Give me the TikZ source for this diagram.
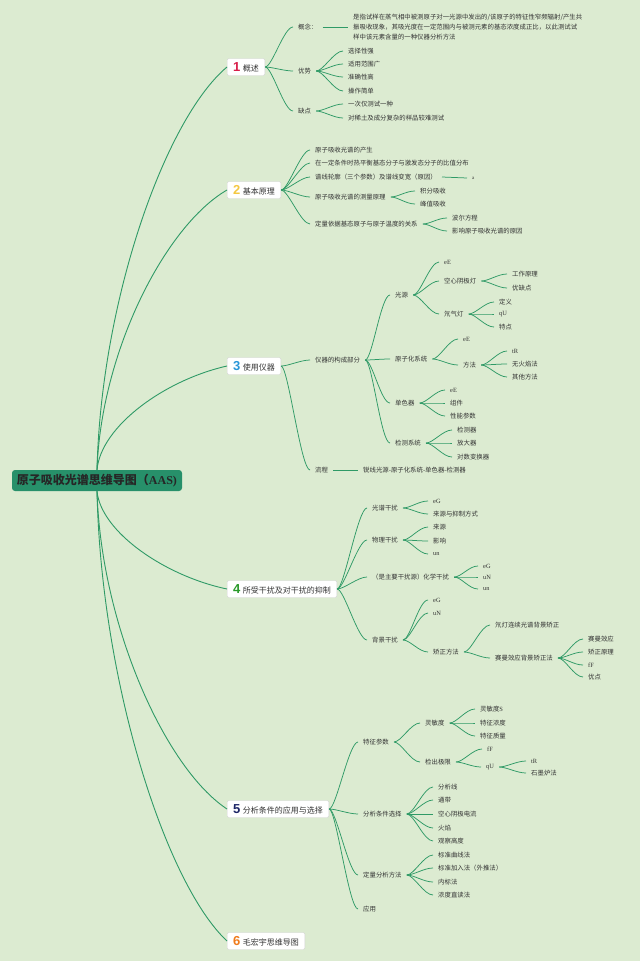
\documentclass[tikz,border=0pt]{standalone}
\usepackage{fontspec}
\setmainfont{Noto Sans CJK SC}
\newfontfamily\numfont{Liberation Sans}
\newfontfamily\latfont{Liberation Serif}
\usetikzlibrary{calc}
\definecolor{bgc}{HTML}{DCEBD1}
\definecolor{lnc}{HTML}{2F9A66}
\definecolor{rootc}{HTML}{27906A}
\definecolor{txc}{HTML}{333333}
\definecolor{nA}{HTML}{D81E4A}
\definecolor{nB}{HTML}{F4C842}
\definecolor{nC}{HTML}{2896D8}
\definecolor{nD}{HTML}{2A9A2A}
\definecolor{nE}{HTML}{1C2566}
\definecolor{nF}{HTML}{F07C1C}
\newcommand{\bnum}[2]{{\numfont\bfseries\fontsize{13}{13}\selectfont\color{#1}#2}\hspace{2.5pt}}
\newcommand{\latx}[1]{{\latfont #1}}
\begin{document}
\begin{tikzpicture}[x=1pt,y=-1pt,
  root/.style={fill=rootc, rounded corners=3pt, minimum width=170pt, minimum height=21pt, inner sep=0pt, font=\fontsize{12}{12}\selectfont\bfseries, text=black!85},
  mbox/.style={anchor=west, draw=black!18, fill=white, rounded corners=1.5pt, minimum height=17pt, inner xsep=6pt, inner ysep=0pt, font=\fontsize{8}{8}\selectfont, text=txc},
  tx/.style={anchor=west, xshift=-5pt, inner xsep=5pt, inner ysep=1pt, font=\fontsize{6.4}{7}\selectfont, text=txc},
  mc/.style={draw=lnc, line width=0.9pt},
  lc/.style={draw=lnc, line width=0.75pt},
  sc/.style={draw=lnc, line width=0.75pt, to path={.. controls ($(\tikztostart)+(7,0)$) and ($(\tikztotarget)+(-9,0)$) .. (\tikztotarget)}}
]
\fill[bgc] (0,0) rectangle (640,961);
\node[root] (root) at (97,480.5) {原子吸收光谱思维导图（{\latfont AAS)}};
% main boxes
\node[mbox] (b1) at (227,67) {\bnum{nA}{1}概述};
\node[mbox] (b2) at (227,190) {\bnum{nB}{2}基本原理};
\node[mbox] (b3) at (227,366) {\bnum{nC}{3}使用仪器};
\node[mbox] (b4) at (227,589) {\bnum{nD}{4}所受干扰及对干扰的抑制};
\node[mbox] (b5) at (227,809) {\bnum{nE}{5}分析条件的应用与选择};
\node[mbox] (b6) at (227,941) {\bnum{nF}{6}毛宏宇思维导图};
\draw[mc] (root.north) .. controls (101,301) and (165,119) .. (b1.west);
\draw[mc] (root.north) .. controls (101,352) and (165,226) .. (b2.west);
\draw[mc] (root.north) .. controls (101,426) and (165,380) .. (b3.west);
\draw[mc] (root.south) .. controls (101,532) and (165,576) .. (b4.west);
\draw[mc] (root.south) .. controls (101,625) and (165,768) .. (b5.west);
\draw[mc] (root.south) .. controls (101,680) and (165,883) .. (b6.west);
% branch 1
\node[tx] (g1) at (298,27) {概念：};
\node[tx, align=left, font=\fontsize{6.4}{10}\selectfont] (g1d) at (353,27) {是指试样在蒸气相中被测原子对一光源中发出的/该原子的特征性窄频辐射/产生共\\振吸收现象，其吸光度在一定范围内与被测元素的基态浓度成正比，以此测试试\\样中该元素含量的一种仪器分析方法};
\node[tx] (y1) at (298,71) {优势};
\node[tx] (y1a) at (348,51) {选择性强};
\node[tx] (y1b) at (348,64) {适用范围广};
\node[tx] (y1c) at (348,77) {准确性高};
\node[tx] (y1d) at (348,91) {操作简单};
\node[tx] (q1) at (298,111) {缺点};
\node[tx] (q1a) at (348,104) {一次仅测试一种};
\node[tx] (q1b) at (348,118) {对稀土及成分复杂的样品较难测试};
\foreach \c in {g1,y1,q1} \draw[sc] (b1.east) to (\c.west);
\draw[lc] (g1.east) -- (g1d.west);
\foreach \c in {y1a,y1b,y1c,y1d} \draw[sc] (y1.east) to (\c.west);
\foreach \c in {q1a,q1b} \draw[sc] (q1.east) to (\c.west);
% branch 2
\node[tx] (p1) at (315,150) {原子吸收光谱的产生};
\node[tx] (p2) at (315,163) {在一定条件时热平衡基态分子与激发态分子的比值分布};
\node[tx] (p3) at (315,177) {谱线轮廓（三个参数）及谱线变宽（原因）};
\node[tx, font=\fontsize{5}{5}\selectfont] (p3a) at (472,178) {\latx{a}};
\node[tx] (p4) at (315,197) {原子吸收光谱的测量原理};
\node[tx] (p4a) at (420,191) {积分吸收};
\node[tx] (p4b) at (420,204) {峰值吸收};
\node[tx] (p5) at (315,224) {定量依据基态原子与原子温度的关系};
\node[tx] (p5a) at (452,218) {波尔方程};
\node[tx] (p5b) at (452,231) {影响原子吸收光谱的原因};
\foreach \c in {p1,p2,p3,p4,p5} \draw[sc] (b2.east) to (\c.west);
\draw[lc] (p3.east) -- (p3a.west);
\foreach \c in {p4a,p4b} \draw[sc] (p4.east) to (\c.west);
\foreach \c in {p5a,p5b} \draw[sc] (p5.east) to (\c.west);
% branch 3
\node[tx] (c1) at (315,360) {仪器的构成部分};
\node[tx] (c2) at (315,470) {流程};
\node[tx] (c2d) at (363,470) {锐线光源-原子化系统-单色器-检测器};
\foreach \c in {c1,c2} \draw[sc] (b3.east) to (\c.west);
\draw[lc] (c2.east) -- (c2d.west);
\node[tx] (s1) at (395,295) {光源};
\node[tx] (s2) at (395,359) {原子化系统};
\node[tx] (s3) at (395,403) {单色器};
\node[tx] (s4) at (395,443) {检测系统};
\foreach \c in {s1,s2,s3,s4} \draw[sc] (c1.east) to (\c.west);
\node[tx] (s1a) at (444,262) {\latx{eE}};
\node[tx] (s1b) at (444,281) {空心阴极灯};
\node[tx] (s1c) at (444,314) {氘气灯};
\foreach \c in {s1a,s1b,s1c} \draw[sc] (s1.east) to (\c.west);
\node[tx] (s1b1) at (512,274) {工作原理};
\node[tx] (s1b2) at (512,288) {优缺点};
\foreach \c in {s1b1,s1b2} \draw[sc] (s1b.east) to (\c.west);
\node[tx] (s1c1) at (499,302) {定义};
\node[tx] (s1c2) at (499,314) {\latx{qU}};
\node[tx] (s1c3) at (499,327) {特点};
\foreach \c in {s1c1,s1c2,s1c3} \draw[sc] (s1c.east) to (\c.west);
\node[tx] (s2a) at (463,339) {\latx{eE}};
\node[tx] (s2b) at (463,365) {方法};
\foreach \c in {s2a,s2b} \draw[sc] (s2.east) to (\c.west);
\node[tx] (s2b1) at (512,351) {\latx{tR}};
\node[tx] (s2b2) at (512,364) {无火焰法};
\node[tx] (s2b3) at (512,377) {其他方法};
\foreach \c in {s2b1,s2b2,s2b3} \draw[sc] (s2b.east) to (\c.west);
\node[tx] (s3a) at (450,390) {\latx{eE}};
\node[tx] (s3b) at (450,403) {组件};
\node[tx] (s3c) at (450,416) {性能参数};
\foreach \c in {s3a,s3b,s3c} \draw[sc] (s3.east) to (\c.west);
\node[tx] (s4a) at (457,430) {检测器};
\node[tx] (s4b) at (457,443) {放大器};
\node[tx] (s4c) at (457,457) {对数变换器};
\foreach \c in {s4a,s4b,s4c} \draw[sc] (s4.east) to (\c.west);
% branch 4
\node[tx] (d1) at (372,508) {光谱干扰};
\node[tx] (d2) at (372,540) {物理干扰};
\node[tx] (d3) at (372,577) {（是主要干扰源）化学干扰};
\node[tx] (d4) at (372,640) {背景干扰};
\foreach \c in {d1,d2,d3,d4} \draw[sc] (b4.east) to (\c.west);
\node[tx] (d1a) at (433,501) {\latx{eG}};
\node[tx] (d1b) at (433,514) {来源与抑制方式};
\foreach \c in {d1a,d1b} \draw[sc] (d1.east) to (\c.west);
\node[tx] (d2a) at (433,527) {来源};
\node[tx] (d2b) at (433,541) {影响};
\node[tx] (d2c) at (433,554) {\latx{un}};
\foreach \c in {d2a,d2b,d2c} \draw[sc] (d2.east) to (\c.west);
\node[tx] (d3a) at (483,566) {\latx{eG}};
\node[tx] (d3b) at (483,577) {\latx{uN}};
\node[tx] (d3c) at (483,589) {\latx{un}};
\foreach \c in {d3a,d3b,d3c} \draw[sc] (d3.east) to (\c.west);
\node[tx] (d4a) at (433,600) {\latx{eG}};
\node[tx] (d4b) at (433,613) {\latx{uN}};
\node[tx] (d4c) at (433,652) {矫正方法};
\foreach \c in {d4a,d4b,d4c} \draw[sc] (d4.east) to (\c.west);
\node[tx] (d4c1) at (495,625) {氘灯连续光谱背景矫正};
\node[tx] (d4c2) at (495,658) {赛曼效应背景矫正法};
\foreach \c in {d4c1,d4c2} \draw[sc] (d4c.east) to (\c.west);
\node[tx] (d4c2a) at (588,639) {赛曼效应};
\node[tx] (d4c2b) at (588,652) {矫正原理};
\node[tx] (d4c2c) at (588,665) {\latx{fF}};
\node[tx] (d4c2d) at (588,677) {优点};
\foreach \c in {d4c2a,d4c2b,d4c2c,d4c2d} \draw[sc] (d4c2.east) to (\c.west);
% branch 5
\node[tx] (e1) at (363,742) {特征参数};
\node[tx] (e2) at (363,814) {分析条件选择};
\node[tx] (e3) at (363,875) {定量分析方法};
\node[tx] (e4) at (363,909) {应用};
\foreach \c in {e1,e2,e3,e4} \draw[sc] (b5.east) to (\c.west);
\node[tx] (e1a) at (425,723) {灵敏度};
\node[tx] (e1b) at (425,762) {检出极限};
\foreach \c in {e1a,e1b} \draw[sc] (e1.east) to (\c.west);
\node[tx] (e1a1) at (480,709) {灵敏度\latx{S}};
\node[tx] (e1a2) at (480,723) {特征浓度};
\node[tx] (e1a3) at (480,736) {特征质量};
\foreach \c in {e1a1,e1a2,e1a3} \draw[sc] (e1a.east) to (\c.west);
\node[tx] (e1b1) at (487,749) {\latx{fF}};
\node[tx] (e1b2) at (486,767) {\latx{qU}};
\foreach \c in {e1b1,e1b2} \draw[sc] (e1b.east) to (\c.west);
\node[tx] (e1b21) at (531,761) {\latx{tR}};
\node[tx] (e1b22) at (531,773) {石墨炉法};
\foreach \c in {e1b21,e1b22} \draw[sc] (e1b2.east) to (\c.west);
\node[tx] (e2a) at (438,787) {分析线};
\node[tx] (e2b) at (438,800) {通带};
\node[tx] (e2c) at (438,814) {空心阴极电流};
\node[tx] (e2d) at (438,828) {火焰};
\node[tx] (e2e) at (438,841) {观察高度};
\foreach \c in {e2a,e2b,e2c,e2d,e2e} \draw[sc] (e2.east) to (\c.west);
\node[tx] (e3a) at (438,855) {标准曲线法};
\node[tx] (e3b) at (438,868) {标准加入法（外推法）};
\node[tx] (e3c) at (438,882) {内标法};
\node[tx] (e3d) at (438,895) {浓度直读法};
\foreach \c in {e3a,e3b,e3c,e3d} \draw[sc] (e3.east) to (\c.west);
\end{tikzpicture}
\end{document}
